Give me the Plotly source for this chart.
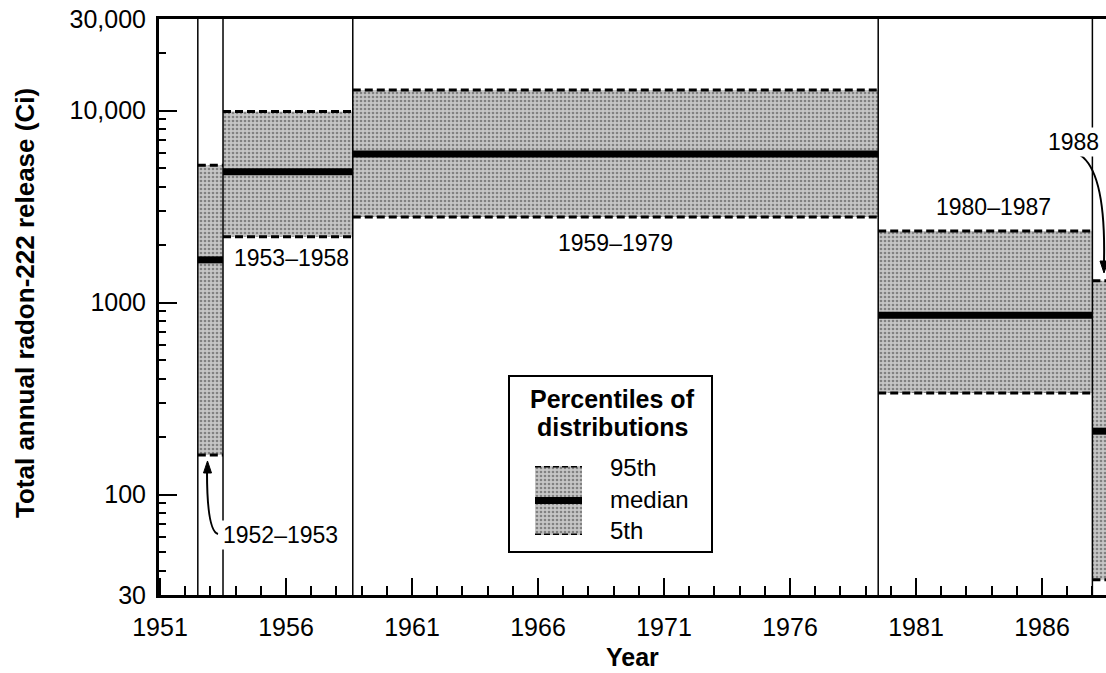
import math

import plotly.graph_objects as go

# data
periods = ["1952–1953", "1953–1958", "1959–1979", "1980–1987", "1988"]
start_year = [1952.5, 1953.5, 1958.65, 1979.5, 1988.0]
end_year = [1953.5, 1958.65, 1979.5, 1988.0, 1989.0]
pct_95 = [5200, 9900, 12800, 2360, 1300]
pct_50 = [1670, 4800, 5950, 860, 214]
pct_5 = [161, 2200, 2790, 338, 36]

y_tick_vals = [30, 100, 1000, 10000, 30000]
y_tick_text = ["30", "100", "1000", "10,000", "30,000"]
y_minor_vals = [40, 50, 60, 70, 80, 90, 200, 300, 400, 500, 600, 700, 800, 900,
                2000, 3000, 4000, 5000, 6000, 7000, 8000, 9000, 20000]

W, H = 1106, 673
PLOT_L, PLOT_R, PLOT_T, PLOT_B = 159, 1106, 19, 595

FONT = "Liberation Sans, Arial, Helvetica, sans-serif"
GRAY_PATTERN = dict(shape=".", fgcolor="#3c3c3c", bgcolor="#c6c6c6", size=4, solidity=0.35)


def px(x):
    return (x - PLOT_L) / (PLOT_R - PLOT_L)


def py(y):
    return (PLOT_B - y) / (PLOT_B - PLOT_T)


def paper_path(points, close=False):
    parts = []
    for i, (x, y) in enumerate(points):
        parts.append(("M" if i == 0 else "L") + f"{px(x):.5f},{py(y):.5f}")
    return " ".join(parts) + (" Z" if close else "")


def curve_path(p0, c, p1):
    return (f"M{px(p0[0]):.5f},{py(p0[1]):.5f} "
            f"Q{px(c[0]):.5f},{py(c[1]):.5f} {px(p1[0]):.5f},{py(p1[1]):.5f}")


def label(text, x, y, size, xanchor="center", bg=None):
    return dict(
        x=px(x), y=py(y), xref="paper", yref="paper", text=text,
        xanchor=xanchor, yanchor="middle", showarrow=False,
        font=dict(size=size, color="black"),
        bgcolor=bg, borderpad=1,
    )


fig = go.Figure()

# shaded 5th-95th bands
for s, e, lo, hi in zip(start_year, end_year, pct_5, pct_95):
    fig.add_trace(go.Scatter(
        x=[s, e, e, s, s], y=[lo, lo, hi, hi, lo],
        mode="lines", fill="toself", fillcolor="#a8a8a8",
        fillpattern=GRAY_PATTERN,
        line=dict(width=0), hoverinfo="skip",
    ))

# dashed percentile edges and thick medians
for s, e, lo, med, hi in zip(start_year, end_year, pct_5, pct_50, pct_95):
    for val in (lo, hi):
        fig.add_trace(go.Scatter(
            x=[s, e], y=[val, val], mode="lines",
            line=dict(color="black", width=3, dash="8px,4px"), hoverinfo="skip",
        ))
    fig.add_trace(go.Scatter(
        x=[s, e], y=[med, med], mode="lines",
        line=dict(color="black", width=7), hoverinfo="skip",
    ))

# period separators
for s in start_year:
    fig.add_trace(go.Scatter(
        x=[s, s], y=[y_tick_vals[0], y_tick_vals[-1]], mode="lines",
        line=dict(color="black", width=1.5), hoverinfo="skip",
    ))

# legend swatch on its own hidden axes
fig.add_trace(go.Scatter(
    x=[0, 1, 1, 0, 0], y=[0, 0, 1, 1, 0], xaxis="x2", yaxis="y2",
    mode="lines", fill="toself", fillcolor="#a8a8a8", fillpattern=GRAY_PATTERN,
    line=dict(width=0), hoverinfo="skip",
))
for val, width, dash in ((0, 3, "6px,3px"), (1, 3, "6px,3px"), (0.5, 7, "solid")):
    fig.add_trace(go.Scatter(
        x=[0, 1], y=[val, val], xaxis="x2", yaxis="y2", mode="lines",
        line=dict(color="black", width=width, dash=dash), hoverinfo="skip",
    ))

label_pos = {
    "1952–1953": (280, 535),
    "1953–1958": (291, 258),
    "1959–1979": (615, 243),
    "1980–1987": (993, 207),
    "1988": (1073, 142),
}

annotations = [label(name, *label_pos[name], 23, bg="white") for name in periods]

# axis titles
annotations.append(label("<b>Year</b>", 632, 657, 25))
ytitle = label("<b>Total annual radon-222 release (Ci)</b>", 25, 303, 26)
ytitle["textangle"] = -90
annotations.append(ytitle)

# legend texts
annotations.append(label("<b>Percentiles of</b>", 612, 399, 25))
annotations.append(label("<b>distributions</b>", 612, 427, 25))
annotations.append(label("95th", 608, 467, 24, xanchor="left"))
annotations.append(label("median", 608, 499, 24, xanchor="left"))
annotations.append(label("5th", 608, 530, 24, xanchor="left"))

shapes = [
    # legend frame
    dict(type="rect", xref="paper", yref="paper",
         x0=px(509), x1=px(712), y0=py(552), y1=py(376),
         line=dict(color="black", width=2), fillcolor="rgba(0,0,0,0)", layer="above"),
    # curved arrows
    dict(type="path", xref="paper", yref="paper",
         path=curve_path((218, 534), (207, 531), (207, 472)),
         line=dict(color="black", width=2)),
    dict(type="path", xref="paper", yref="paper",
         path=paper_path([(203.5, 473), (207.5, 461), (211.5, 473)], close=True),
         fillcolor="black", line=dict(color="black", width=1)),
    dict(type="path", xref="paper", yref="paper",
         path=curve_path((1080, 155), (1106, 172), (1104, 262)),
         line=dict(color="black", width=2)),
    dict(type="path", xref="paper", yref="paper",
         path=paper_path([(1100, 261), (1104, 273), (1108, 261)], close=True),
         fillcolor="black", line=dict(color="black", width=1)),
]

fig.update_layout(
    width=W,
    height=H,
    margin=dict(l=PLOT_L, r=W - PLOT_R, t=PLOT_T, b=H - PLOT_B),
    paper_bgcolor="white",
    plot_bgcolor="white",
    showlegend=False,
    font=dict(family=FONT, color="black"),
    annotations=annotations,
    shapes=shapes,
    xaxis=dict(
        range=[1950.96, 1988.54],
        tickmode="linear", tick0=1951, dtick=5,
        ticks="inside", ticklen=17, tickwidth=2, tickcolor="black",
        ticklabelstandoff=8,
        tickfont=dict(size=25),
        minor=dict(dtick=1, tick0=1951, ticks="inside", ticklen=9,
                   tickwidth=2, tickcolor="black"),
        showline=True, linecolor="black", linewidth=3, mirror=True,
        showgrid=False, zeroline=False,
    ),
    yaxis=dict(
        type="log",
        range=[math.log10(y_tick_vals[0]), math.log10(y_tick_vals[-1])],
        tickmode="array", tickvals=y_tick_vals, ticktext=y_tick_text,
        ticks="inside", ticklen=18, tickwidth=2, tickcolor="black",
        ticklabelstandoff=5,
        tickfont=dict(size=25),
        minor=dict(tickmode="array", tickvals=y_minor_vals, ticks="inside",
                   ticklen=7, tickwidth=2, tickcolor="black"),
        showline=True, linecolor="black", linewidth=3,
        showgrid=False, zeroline=False,
    ),
    xaxis2=dict(domain=[px(535), px(582)], range=[0, 1], anchor="y2",
                visible=False, fixedrange=True),
    yaxis2=dict(domain=[py(535), py(466)], range=[0, 1], anchor="x2",
                visible=False, fixedrange=True),
)

# drop the default body margin so the figure sits at the window's top-left corner
fig.write_html(
    "out.html",
    config={"displayModeBar": False},
    post_script="document.body.style.margin = '0';",
)
